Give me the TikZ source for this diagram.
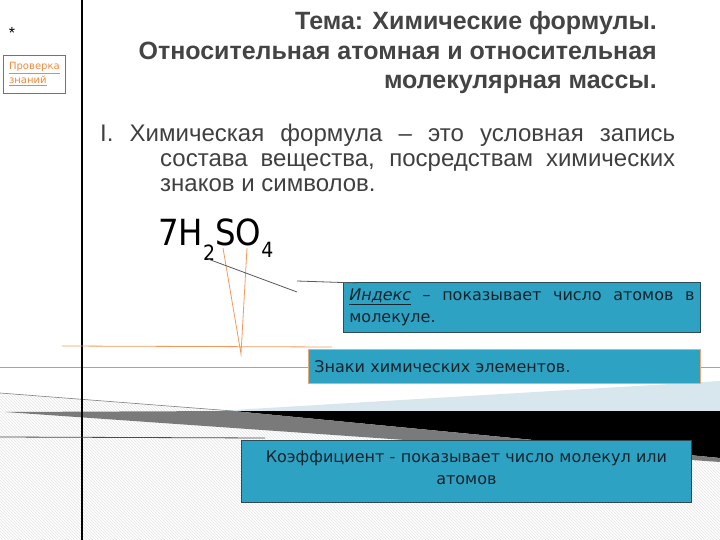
\documentclass[tikz,border=0pt]{standalone}
\usepackage{fontspec}
\setmainfont{Liberation Sans}
\newfontfamily\dejavu{DejaVu Sans}
\newfontfamily\dejavucond[FakeStretch=0.9]{DejaVu Sans}
\newfontfamily\bodyfont{Liberation Sans}
\usetikzlibrary{patterns}
\definecolor{titlegray}{HTML}{444444}
\definecolor{bodygray}{HTML}{404040}
\definecolor{boxblue}{HTML}{2EA2C2}
\definecolor{boxedge}{HTML}{2E4A55}
\definecolor{boxorange}{HTML}{E8A878}
\definecolor{lineorange}{HTML}{F39A5A}
\definecolor{linkorange}{HTML}{EE8A40}
\definecolor{ink}{HTML}{14232C}
\definecolor{band}{HTML}{D8E6EE}
\definecolor{wedge}{HTML}{7A7A7A}
\definecolor{hline}{HTML}{8FAAC0}
\begin{document}
\begin{tikzpicture}[x=1pt,y=-1pt,
  infobox/.style={draw=boxedge, fill=boxblue, line width=0.8pt, anchor=north west,
    inner xsep=6pt, inner ysep=0pt, font=\dejavu\fontsize{16}{22}\selectfont, text=ink},
  orangeline/.style={draw=lineorange, line width=0.8pt},
  grayline/.style={draw=black!65, line width=0.8pt},
  titletext/.style={anchor=base east, inner sep=0pt, text=titlegray,
    font=\bfseries\fontsize{25}{29}\selectfont}]
\useasboundingbox (0,0) rectangle (720,540);
\fill[white] (0,0) rectangle (720,540);
% background decoration
\fill[pattern=north west lines, pattern color=black!11] (0,393) -- (233,411) -- (720,411) -- (720,540) -- (0,540) -- cycle;
\fill[band] (200,412) -- (720,381) -- (720,412) -- cycle;
\fill[black] (233,411) -- (720,411) -- (720,458) -- cycle;
\fill[wedge] (5,412) -- (233,411) -- (720,458) -- (720,462) -- cycle;
\draw[black!50, line width=0.6pt] (0,393) -- (233,411);
\draw[hline, line width=0.8pt] (0,367) -- (720,367);
% left rule
\draw[black, line width=2pt] (82,0) -- (82,540);
% star and link box
\node[inner sep=0pt, font=\fontsize{16}{16}\selectfont] (star) at (12,33) {*};
\node[draw=black!55, line width=0.8pt, anchor=north west, minimum width=62pt, minimum height=38pt,
  inner sep=4pt, align=left, text=linkorange, font=\dejavu\fontsize{10}{14}\selectfont] (check) at (3,55)
  {\underline{Проверка}\\\underline{знаний}};
% title
\node[titletext] (t1) at (657,30) {Тема: Химические формулы.};
\node[titletext] (t2) at (657,60) {Относительная атомная и относительная};
\node[titletext] (t3) at (657,89) {молекулярная массы.};
% body
\node[anchor=north west, inner sep=0pt, align=left, text=bodygray,
  font=\bodyfont\fontsize{24}{25}\selectfont] (body) at (100,124)
  {\makebox[575pt][s]{I. Химическая формула – это условная запись}\\
   \hspace*{60pt}\makebox[515pt][s]{состава вещества, посредствам химических}\\
   \hspace*{60pt}знаков и символов.};
% formula
\node[anchor=base west, inner sep=0pt, font=\dejavucond\fontsize{36}{36}\selectfont] (formula) at (158,245)
  {7H\raisebox{-15pt}{\fontsize{21}{21}\selectfont 2}SO\raisebox{-13pt}{\fontsize{21}{21}\selectfont 4}};
% boxes
\node[infobox, text width=345pt, minimum height=50pt, align=justify] (index) at (343,282)
  {\underline{\textit{Индекс}} – показывает число атомов в\linebreak молекуле.};
\node[infobox, draw=boxorange, text width=380pt, minimum height=34pt, align=left] (signs) at (308,349)
  {Знаки химических элементов.};
\node[infobox, text width=438pt, minimum height=62pt, align=center] (coef) at (241,440)
  {Коэффициент - показывает число молекул или\\атомов\\[-14pt]\mbox{}};
% connectors
\coordinate (sA) at (223,248);
\coordinate (oA) at (247,248);
\coordinate (tip) at (241,354);
\coordinate (oL) at (62,346);
\coordinate (oR) at (332,347);
\draw[orangeline] (oL) -- (oR);
\draw[orangeline] (sA) -- (tip) -- (oA);
\coordinate (two) at (208,259);
\coordinate (gEnd) at (297,292);
\coordinate (gL) at (297,281);
\coordinate (gR) at (357,283);
\draw[grayline] (two) -- (gEnd);
\draw[grayline] (gL) -- (gR);
\coordinate (kL) at (0,437);
\coordinate (kR) at (265,438);
\draw[black!70, line width=0.8pt] (kL) -- (kR);
\end{tikzpicture}
\end{document}
